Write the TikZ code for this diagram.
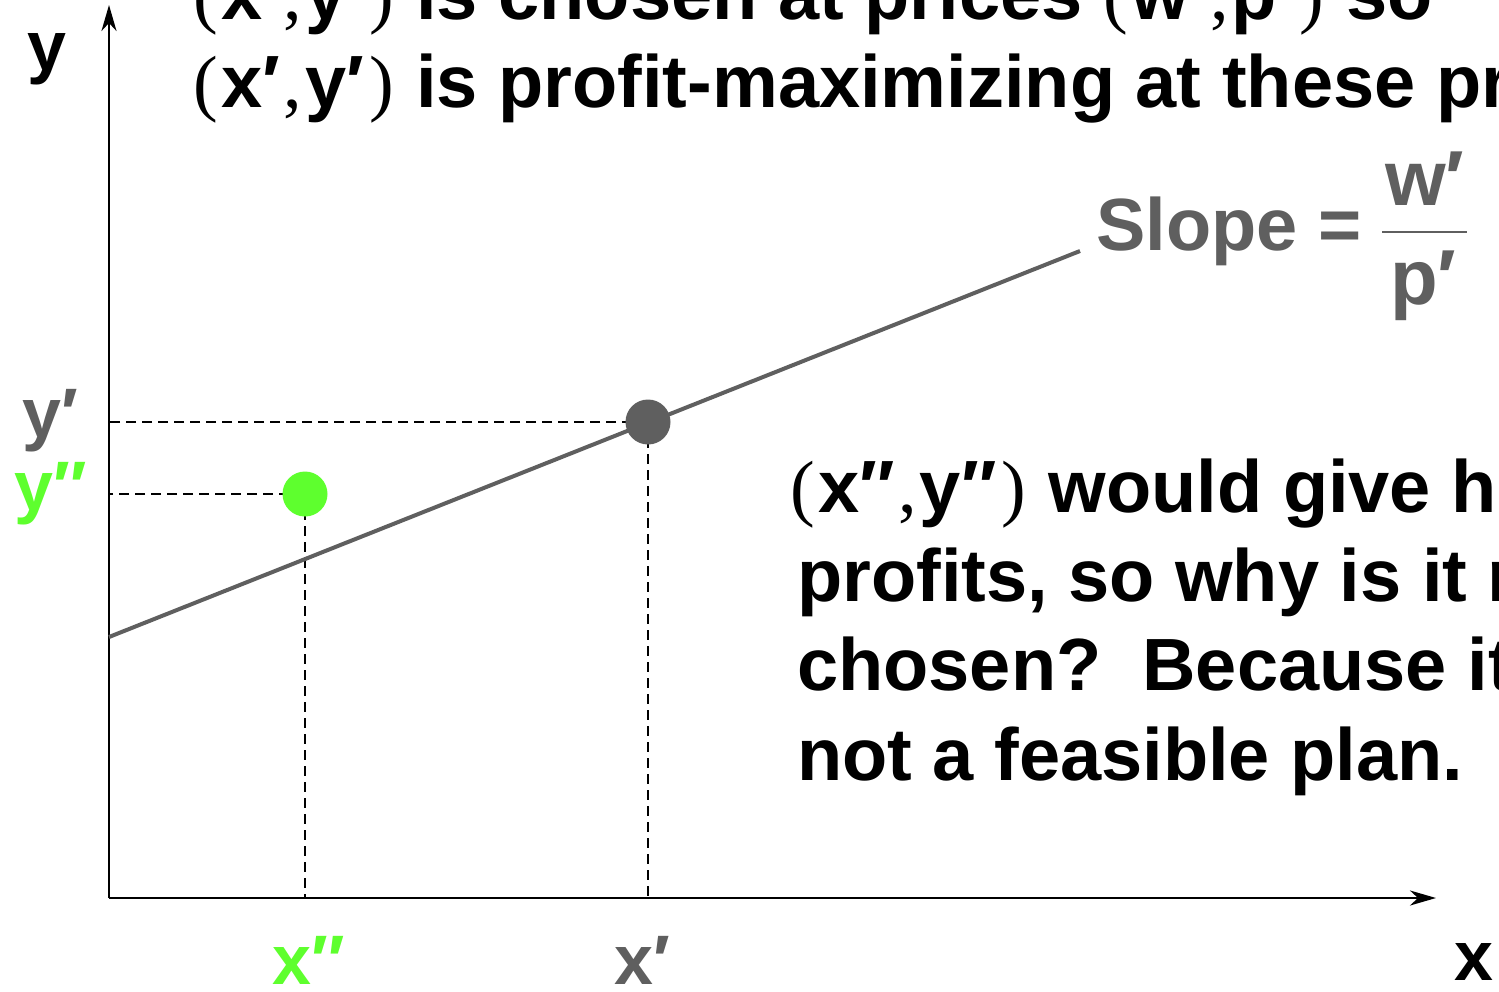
\documentclass[tikz,border=0pt]{standalone}
\usepackage{fontspec}
\setmainfont{Liberation Sans}
\newfontfamily\seriffam{Liberation Serif}
\usetikzlibrary{arrows.meta}
\definecolor{dgray}{RGB}{95,95,95}
\definecolor{lgreen}{RGB}{94,255,46}
\newcommand{\lpar}{{\seriffam\mdseries(}\kern4pt}
\newcommand{\rpar}{\kern5pt{\seriffam\mdseries)}\kern2pt}
\newcommand{\scomma}{\kern3pt{\seriffam\mdseries,}\kern3pt}
\tikzset{
  txt/.style={anchor=base west, inner sep=0pt, font=\fontsize{74}{88}\selectfont\bfseries},
  axlab/.style={anchor=base west, inner sep=0pt, font=\fontsize{70}{84}\selectfont\bfseries},
  axis/.style={line width=2.5pt, -{Stealth[length=26pt,width=15pt,inset=8pt]}},
  guide/.style={line width=2pt, dash pattern=on 10pt off 6pt},
  dot/.style={circle, inner sep=0pt, minimum size=45pt},
}
\begin{document}
\begin{tikzpicture}[x=1pt,y=-1pt]
\useasboundingbox (0,0) rectangle (1499,991);
\clip (0,0) rectangle (1499,991);
% axes
\coordinate (O) at (109,898);
\coordinate (Ytop) at (109,5);
\coordinate (Xend) at (1436,898);
% points
\coordinate (A) at (648,422);
\coordinate (B) at (305,494);
% guides
\draw[guide] (A) -- (A -| O);
\draw[guide] (A) -- (A |- O);
\draw[guide] (B) -- (B -| O);
\draw[guide] (B) -- (B |- O);
\draw[axis] (O) -- (Ytop);
\draw[axis] (O) -- (Xend);
% iso-profit line
\coordinate (L0) at (109,637);
\coordinate (L1) at (1080,251);
\draw[dgray, line width=4pt] (L0) -- (L1);
\node[dot, fill=dgray] (PA) at (A) {};
\node[dot, fill=lgreen] (PB) at (B) {};
% axis labels
\node[axlab] (ylab) at (27,70) {y};
\node[axlab, text=dgray] (yp) at (22,437) {y′};
\node[axlab, text=lgreen] (ypp) at (14,510) {y″};
\node[axlab, text=lgreen] (xpp) at (272,984) {x″};
\node[axlab, text=dgray] (xp) at (614,984) {x′};
\node[axlab] (xlab) at (1454,980) {x};
% slope
\node[txt, text=dgray] (slope) at (1096,250) {Slope =};
\draw[dgray, line width=1.5pt] (1382,232) coordinate (f0) -- (1467,232) coordinate (f1);
\node[txt, text=dgray, font=\fontsize{78}{90}\selectfont\bfseries] (wp) at (1385,205) {w′};
\node[txt, text=dgray, font=\fontsize{78}{90}\selectfont\bfseries] (pp) at (1390,304) {p′};
% title
\node[txt] (t1) at (193,19) {\lpar x′\scomma y′\rpar{} is chosen at prices \lpar w′\scomma p′\rpar{} so};
\node[txt] (t2) at (193,107) {\lpar x′\scomma y′\rpar{} is profit-maximizing at these prices.};
% explanation
\node[txt] (b1) at (790,512) {\lpar x″\scomma y″\rpar{} would give higher};
\node[txt] (b2) at (797,601) {profits, so why is it not};
\node[txt] (b3) at (797,690) {chosen?\ \ Because it is};
\node[txt] (b4) at (797,780) {not a feasible plan.};
\end{tikzpicture}
\end{document}
